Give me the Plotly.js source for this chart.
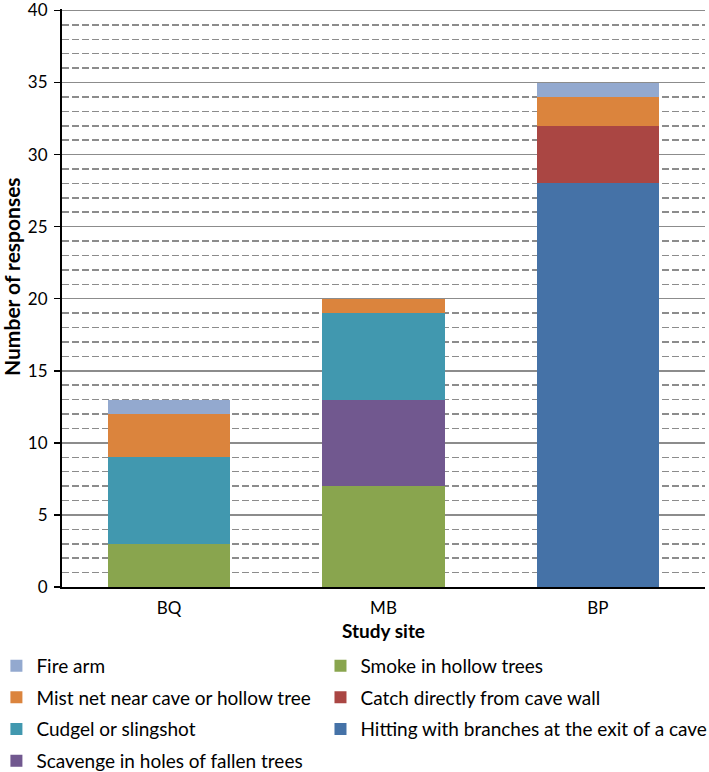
<!DOCTYPE html>
<html>
<head>
<meta charset="utf-8">
<script src="https://cdn.plot.ly/plotly-3.0.1.min.js"></script>
<style>html,body{margin:0;padding:0;background:#fff;}</style>
</head>
<body>
<div id="chart" style="width:709px;height:772px;"></div>
<script>
const sites = ["BQ", "MB", "BP"];
// stacking order bottom -> top
const hitting  = [0, 0, 28];
const smoke    = [3, 7, 0];
const catchW   = [0, 0, 4];
const scavenge = [0, 6, 0];
const cudgel   = [6, 6, 0];
const mistNet  = [3, 1, 2];
const fireArm  = [1, 0, 1];
const yTicks = [0, 5, 10, 15, 20, 25, 30, 35, 40];

const seriesNames = {
  hitting: "Hitting with branches at the exit of a cave",
  smoke: "Smoke in hollow trees",
  catchW: "Catch directly from cave wall",
  scavenge: "Scavenge in holes of fallen trees",
  cudgel: "Cudgel or slingshot",
  mistNet: "Mist net near cave or hollow tree",
  fireArm: "Fire arm"
};
const colors = {
  hitting: "#4572A7", smoke: "#89A54E", catchW: "#AA4643", scavenge: "#71588F",
  cudgel: "#4198AF", mistNet: "#DB843D", fireArm: "#93A9CF"
};
const values = {hitting, smoke, catchW, scavenge, cudgel, mistNet, fireArm};
const legendInfo = {
  fireArm: ["legend", 1], mistNet: ["legend", 2], cudgel: ["legend", 3], scavenge: ["legend", 4],
  smoke: ["legend2", 1], catchW: ["legend2", 2], hitting: ["legend2", 3]
};
const order = ["hitting", "smoke", "catchW", "scavenge", "cudgel", "mistNet", "fireArm"];

const traces = order.map(k => ({
  type: "bar",
  x: sites,
  y: values[k],
  name: seriesNames[k],
  marker: {color: colors[k], line: {width: 0}},
  legend: legendInfo[k][0],
  legendrank: legendInfo[k][1],
  legendgroup: k,
  hoverinfo: "x+y+name"
}));

const font = "Lato, 'Open Sans', sans-serif";
const legendCommon = {
  orientation: "v",
  bgcolor: "rgba(0,0,0,0)",
  font: {family: font, size: 19, color: "#000"},
  yanchor: "top",
  xanchor: "left",
  tracegroupgap: 4,
  itemwidth: 30,
  traceorder: "grouped"
};

const layout = {
  width: 709, height: 772,
  margin: {l: 62, r: 4, t: 9, b: 185, autoexpand: false},
  paper_bgcolor: "#fff", plot_bgcolor: "#fff",
  barmode: "stack",
  bargap: 0.43,
  font: {family: font, size: 17, color: "#000"},
  showlegend: true,
  legend: Object.assign({}, legendCommon, {x: -0.102, y: -0.1035}),
  legend2: Object.assign({}, legendCommon, {x: 0.402, y: -0.1035}),
  xaxis: {
    automargin: false,
    showline: true, linecolor: "#000", linewidth: 2,
    ticks: "", tickfont: {family: font, size: 17},
    ticklabelstandoff: 5,
    title: {text: "<b>Study site</b>", font: {family: font, size: 19}, standoff: 7},
    showgrid: false
  },
  yaxis: {
    automargin: false,
    range: [0, 40.1],
    tickmode: "array", tickvals: yTicks, ticktext: yTicks.map(String),
    ticklabeloverflow: "allow",
    showline: true, linecolor: "#000", linewidth: 2,
    ticks: "outside", ticklen: 6, tickcolor: "#000", tickwidth: 1.5,
    tickfont: {family: font, size: 17},
    ticklabelstandoff: 3,
    showgrid: true, gridcolor: "#8c8c8c", gridwidth: 1.5,
    minor: {dtick: 1, tick0: 0, showgrid: true, griddash: "7px,3px", gridcolor: "#8c8c8c", gridwidth: 1.5, ticks: ""},
    zeroline: false
  },
  annotations: [{
    text: "<b>Number of responses</b>",
    xref: "paper", yref: "paper",
    x: -0.0778, y: 0.5381,
    xanchor: "center", yanchor: "middle",
    textangle: -90, showarrow: false,
    font: {family: font, size: 21, color: "#000"}
  }]
};

Plotly.newPlot("chart", traces, layout, {displayModeBar: false, staticPlot: true});
</script>
</body>
</html>
